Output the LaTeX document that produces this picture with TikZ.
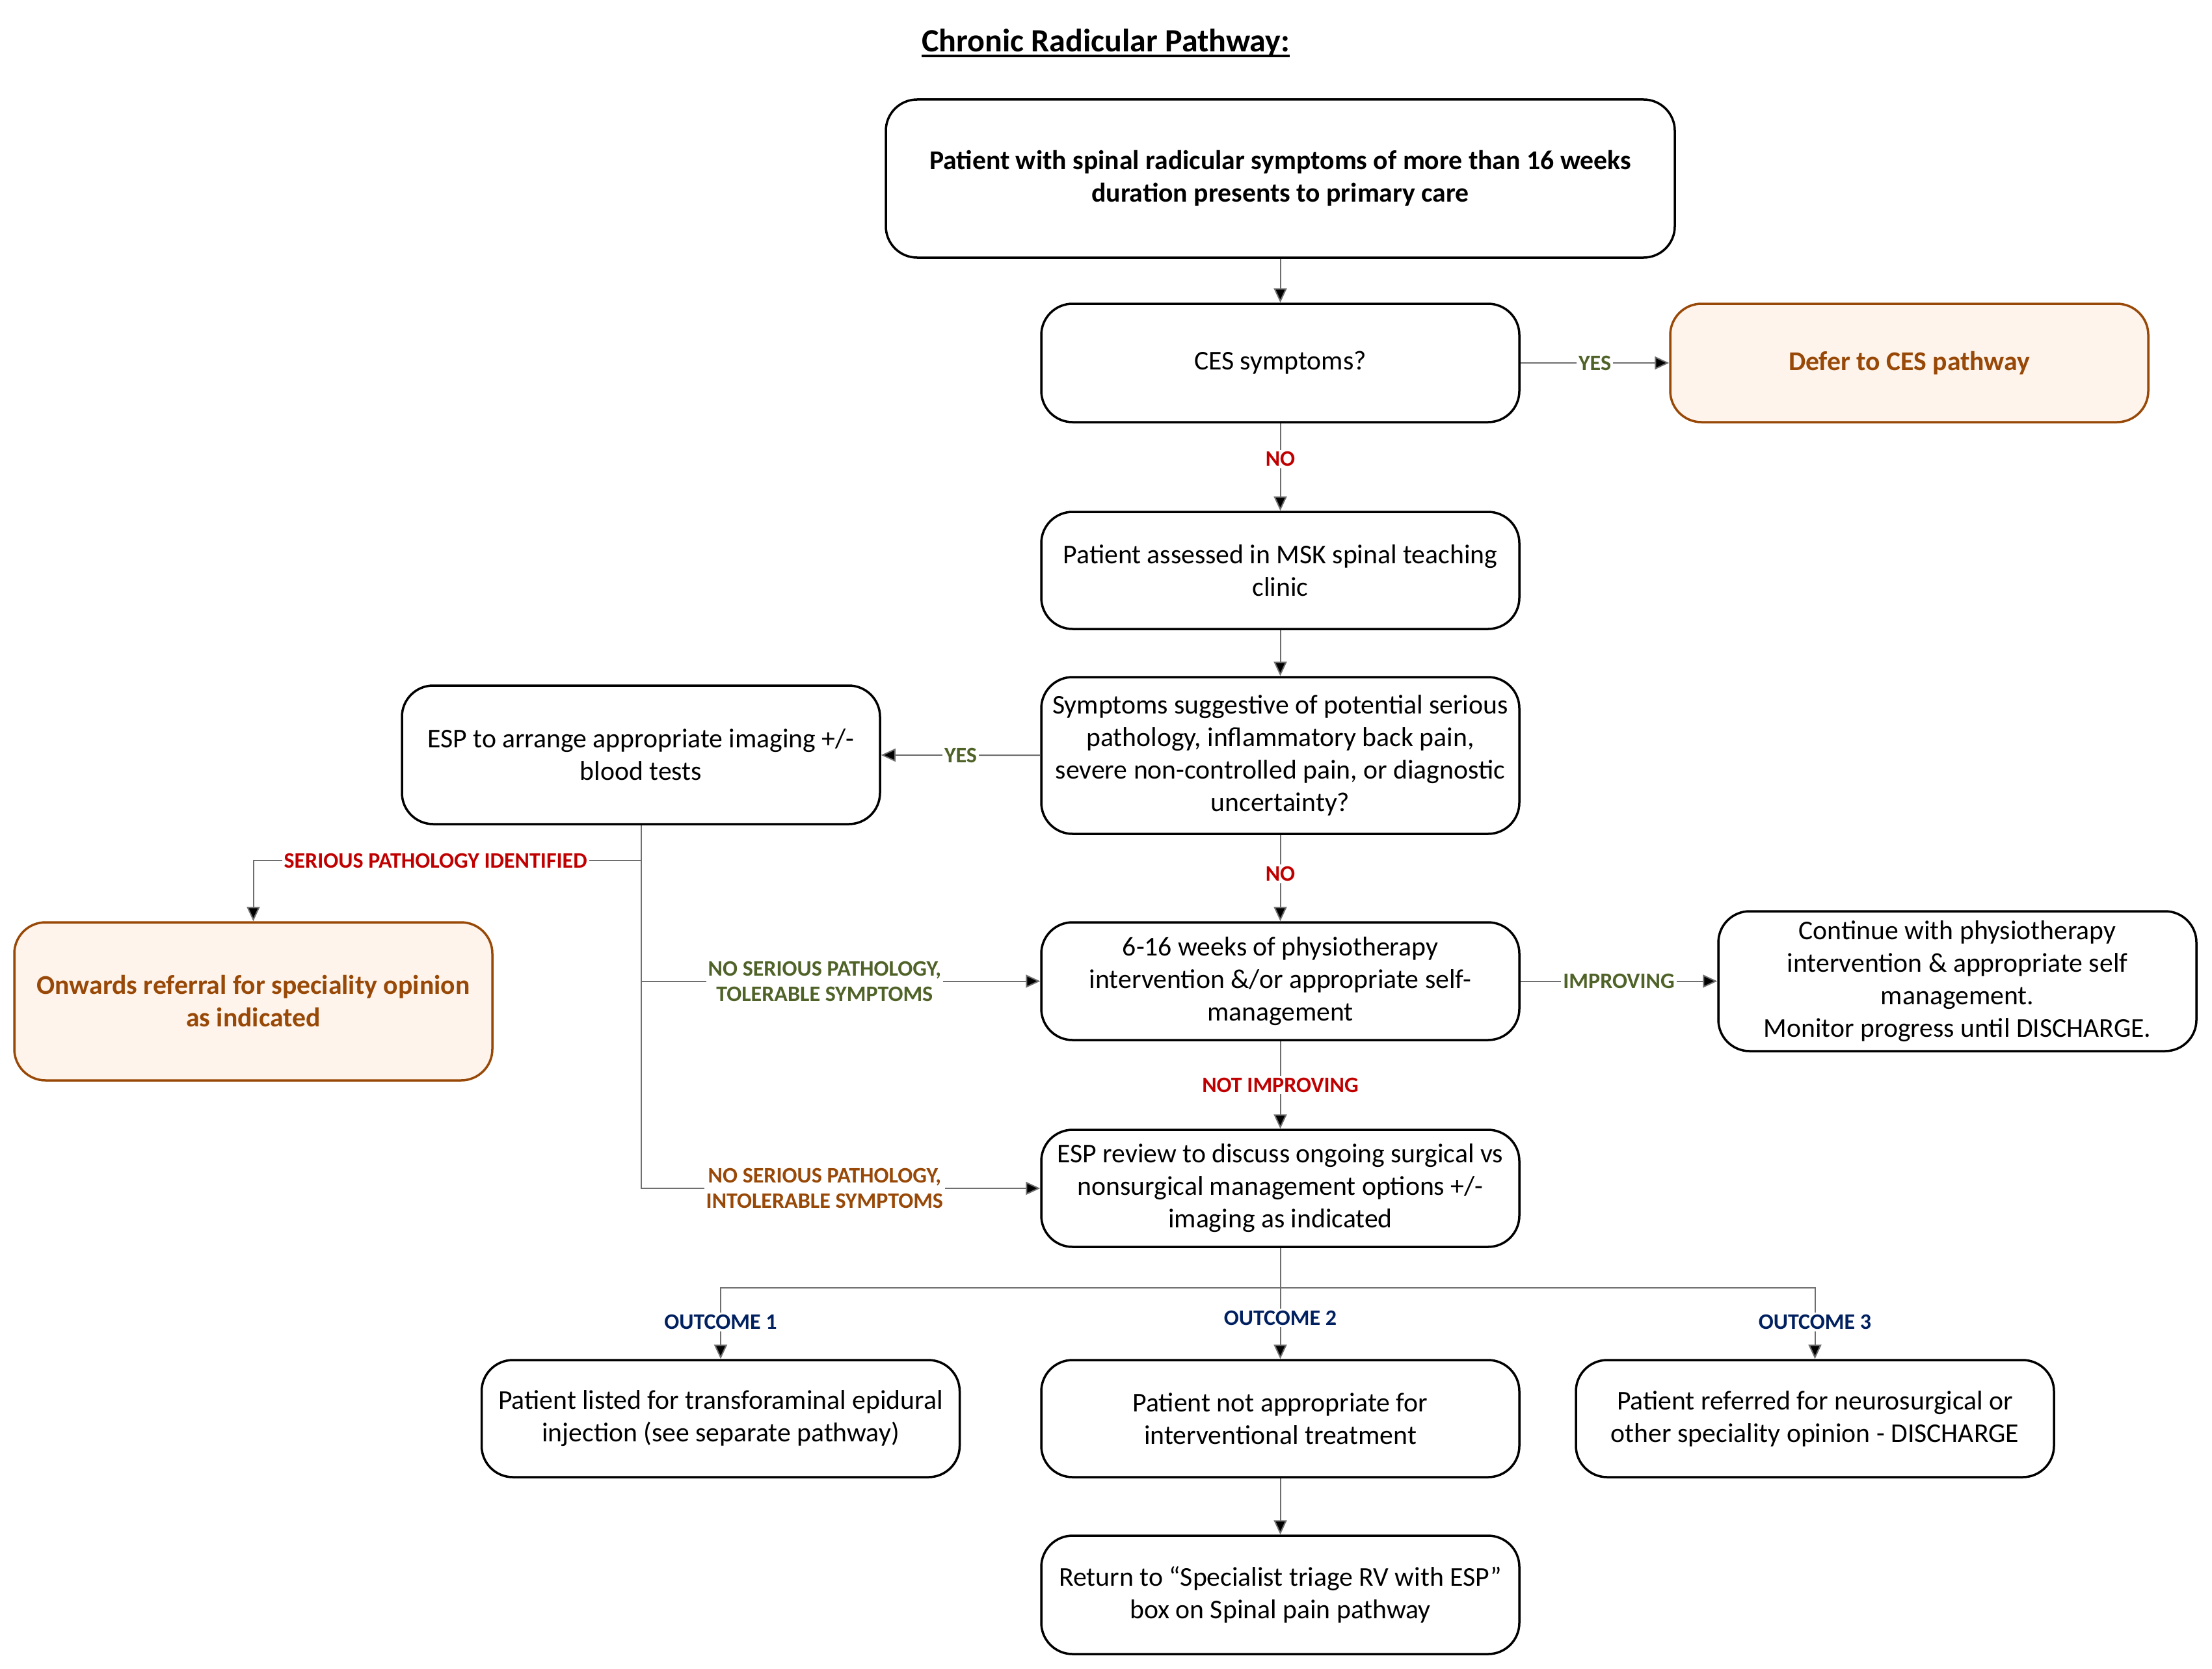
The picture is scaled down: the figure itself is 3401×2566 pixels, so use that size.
\documentclass[tikz,border=0pt]{standalone}
\usepackage{fontspec}
\setmainfont{Carlito}
\usetikzlibrary{arrows.meta}
\definecolor{lgreen}{HTML}{4F6228}
\definecolor{lred}{HTML}{C00000}
\definecolor{lnavy}{HTML}{002060}
\definecolor{lorange}{HTML}{984807}
\definecolor{lpeach}{HTML}{FEF4EB}
\definecolor{lconn}{HTML}{6E6E6E}
\tikzset{
  box/.style={draw=black, line width=3.5pt, rounded corners=48pt, align=center,
    minimum width=735pt, minimum height=182pt, inner sep=0pt,
    font=\fontsize{41.7}{50}\selectfont},
  obox/.style={box, draw=lorange, fill=lpeach, text=lorange,
    font=\fontsize{41.7}{50}\selectfont\bfseries},
  conn/.style={draw=lconn, line width=2pt, -{Triangle[length=22pt,width=20pt,fill=black]}},
  plain/.style={draw=lconn, line width=2pt},
  lab/.style={fill=white, inner sep=3pt, align=center,
    font=\fontsize{34}{39}\selectfont\bfseries},
}
\begin{document}
\begin{tikzpicture}[x=1pt,y=-1pt]
\useasboundingbox (0,0) rectangle (3401,2566);
% title
\node[anchor=base, inner sep=0pt, font=\fontsize{50}{60}\selectfont\bfseries] (title) at (1700,80) {Chronic Radicular Pathway:};
\draw[line width=3.6pt] ([yshift=-6pt]title.base west) -- ([yshift=-6pt]title.base east);
% boxes
\node[box, minimum width=1213pt, minimum height=243pt, font=\fontsize{41.7}{50}\selectfont\bfseries] (top) at (1968.5,274.5)
  {Patient with spinal radicular symptoms of more than 16 weeks\\duration presents to primary care};
\node[box] (ces) at (1968.5,558) {CES symptoms?};
\node[obox] (defer) at (2935.5,558) {Defer to CES pathway};
\node[box, minimum height=180pt] (msk) at (1968.5,877) {Patient assessed in MSK spinal teaching\\clinic};
\node[box, minimum height=241pt] (sym) at (1968.5,1161.5) {Symptoms suggestive of potential serious\\pathology, inflammatory back pain,\\severe non-controlled pain, or diagnostic\\uncertainty?};
\node[box, minimum height=213pt] (esp) at (985.5,1160.5) {ESP to arrange appropriate imaging +/-\\blood tests};
\node[obox, minimum height=243pt] (onw) at (389.5,1539.5) {Onwards referral for speciality opinion\\as indicated};
\node[box, minimum height=181pt] (phy) at (1968.5,1508.5) {6-16 weeks of physiotherapy\\intervention \&/or appropriate self-\\management};
\node[box, minimum height=215pt] (cont) at (3009.5,1508.5) {Continue with physiotherapy\\intervention \& appropriate self\\management.\\Monitor progress until DISCHARGE.};
\node[box, minimum height=180pt] (rev) at (1968.5,1827) {ESP review to discuss ongoing surgical vs\\nonsurgical management options +/-\\imaging as indicated};
\node[box, minimum height=180pt] (o1) at (1108,2181) {Patient listed for transforaminal epidural\\injection (see separate pathway)};
\node[box, minimum height=180pt] (o2) at (1968.5,2181) {Patient not appropriate for\\interventional treatment};
\node[box, minimum height=180pt] (o3) at (2790.5,2181) {Patient referred for neurosurgical or\\other speciality opinion - DISCHARGE};
\node[box, minimum height=182pt] (ret) at (1968.5,2452) {Return to “Specialist triage RV with ESP”\\box on Spinal pain pathway};
% connectors
\draw[conn] (top) -- (ces);
\draw[conn] (ces) -- (defer) node[lab, text=lgreen, pos=0.5] {YES};
\draw[conn] (ces) -- (msk) node[lab, text=lred, pos=0.41] {NO};
\draw[conn] (msk) -- (sym);
\draw[conn] (sym) -- (esp) node[lab, text=lgreen, pos=0.5] {YES};
\draw[conn] (sym) -- (phy) node[lab, text=lred, pos=0.45] {NO};
\draw[conn] (phy) -- (cont) node[lab, text=lgreen, pos=0.5] {IMPROVING};
\draw[conn] (phy) -- (rev) node[lab, text=lred, pos=0.5] {NOT IMPROVING};
\draw[conn] (o2) -- (ret);
% left tree
\coordinate (j2) at (985.5,1323);
\draw[plain] (esp.south) -- (j2);
\draw[conn] (j2) -| (onw.north) node[lab, text=lred, pos=0.265] {SERIOUS PATHOLOGY IDENTIFIED};
\draw[conn] (esp.south) |- (phy.west) node[lab, text=lgreen, pos=0.73] {NO SERIOUS PATHOLOGY,\\TOLERABLE SYMPTOMS};
\draw[conn] (esp.south) |- (rev.west) node[lab, text=lorange, pos=0.73] {NO SERIOUS PATHOLOGY,\\INTOLERABLE SYMPTOMS};
% outcomes
\coordinate (j1) at (1968.5,1980);
\draw[plain] (rev.south) -- (j1);
\draw[conn] (j1) -| (o1.north) node[lab, text=lnavy, pos=0.74] {OUTCOME 1};
\draw[conn] (rev.south) -- (o2.north) node[lab, text=lnavy, pos=0.63] {OUTCOME 2};
\draw[conn] (j1) -| (o3.north) node[lab, text=lnavy, pos=0.74] {OUTCOME 3};
\end{tikzpicture}
\end{document}
